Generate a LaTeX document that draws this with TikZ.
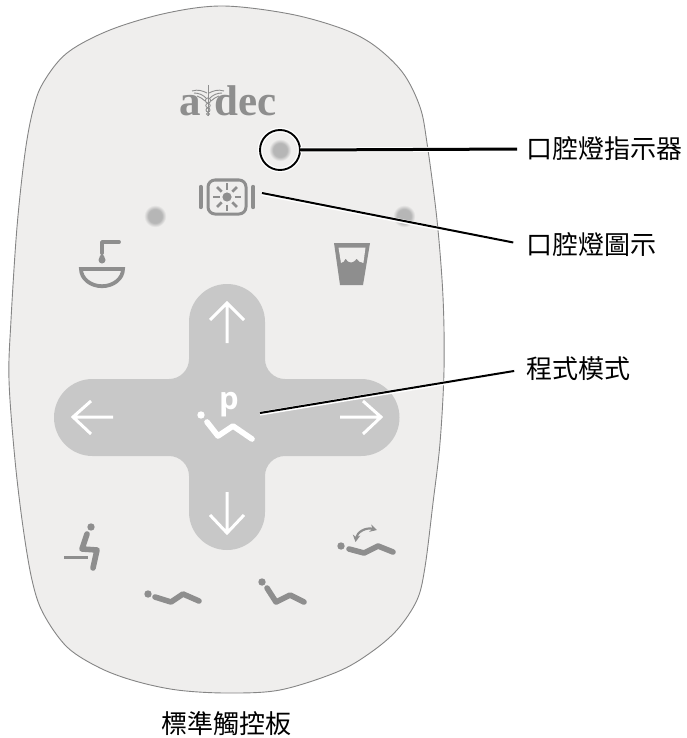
\documentclass[tikz,border=0pt]{standalone}
\usepackage{fontspec}
\usetikzlibrary{arrows.meta,calc}
\newfontfamily\cjkf{Noto Sans CJK TC}
\newfontfamily\logof{Liberation Serif}[BoldFont={Liberation Serif Bold}]
\newfontfamily\pf{Open Sans}
\definecolor{panelbg}{HTML}{EFEEED}
\definecolor{panelline}{HTML}{858585}
\definecolor{crossc}{HTML}{C8C8C8}
\definecolor{iconc}{HTML}{8E8E8E}
\definecolor{ledc}{HTML}{B6B6B6}
\pgfdeclareradialshading{ledglow}{\pgfpointorigin}{color(0bp)=(ledc);color(15bp)=(ledc);color(24bp)=(panelbg);color(50bp)=(panelbg)}
\tikzset{
  whitearrow/.style={draw=white,line width=3pt,line cap=butt,miter limit=10},
  body/.style={draw=iconc,line width=5.6pt,line cap=round,line join=round},
  wbody/.style={draw=white,line width=5.6pt,line cap=round,line join=round},
  lbl/.style={inner sep=0pt,font=\cjkf\fontsize{26}{30}\selectfont,text=black},
  halo/.style={draw=white,line cap=butt},
  leader/.style={draw=black,line cap=butt},
  led/.style={shading=ledglow},
}
\begin{document}
\begin{tikzpicture}[x=1pt,y=-1pt]
\useasboundingbox (0,0) rectangle (686,738);
% panel
\draw[fill=panelbg,draw=panelline,line width=0.9pt] plot[smooth cycle,tension=0.55] coordinates {
 (223,6) (167,13) (110,30) (67,53) (43,83) (33,110) (25,153) (17,227) (11,320) (9,380)
 (15,460) (23,527) (32,580) (43,613) (67,647) (100,668) (135,681) (177,690) (227,693) (280,690)
 (337,672) (370,653) (397,630) (417,600) (425,567) (433,503) (440,443) (444,370) (443,297) (437,220)
 (427,143) (420,107) (403,73) (375,46) (343,29) (290,14)};
% cross
\fill[crossc] (189,322) arc[start angle=180,end angle=360,radius=38] -- (265,359)
  arc[start angle=180,end angle=90,radius=20] -- (361,379)
  arc[start angle=-90,end angle=90,radius=38.5] -- (285,456)
  arc[start angle=270,end angle=180,radius=20] -- (265,512)
  arc[start angle=0,end angle=180,radius=38] -- (189,476)
  arc[start angle=0,end angle=-90,radius=20] -- (92.5,456)
  arc[start angle=90,end angle=270,radius=38.5] -- (169,379)
  arc[start angle=90,end angle=0,radius=20] -- cycle;
% arrows
\draw[whitearrow] (227,343)--(227,303) (210,320)--(227,303)--(244,320);
\draw[whitearrow] (227,492)--(227,533) (210,515)--(227,533)--(244,515);
\draw[whitearrow] (113,417)--(73,417) (91,401)--(73,417)--(91,434);
\draw[whitearrow] (340,417)--(381,417) (363,401)--(381,417)--(363,434);
% p and chair
\node[anchor=base,inner sep=0pt,text=white,font=\pf\bfseries\fontsize{31}{31}\selectfont] (pmark) at (229,409) {p};
\fill[white] (201,415) circle[radius=3.7];
\draw[wbody] (207,422)--(218,436)--(233,426)--(252,439);
% leds
\path[led] (155,216) circle[radius=11.5];
\path[led] (404,216) circle[radius=11.5];
\path[led] (280,150) circle[radius=11.5];
% logo
\node[anchor=base west,inner sep=0pt,text=iconc,font=\logof\bfseries\fontsize{43}{43}\selectfont] (loga) at (179,116) {a};
\node[anchor=base west,inner sep=0pt,text=iconc,font=\logof\bfseries\fontsize{43}{43}\selectfont] (logod) at (214.5,116) {dec};
\begin{scope}[draw=iconc,line width=0.9pt]
\draw (208,85)--(208,116);
\draw (192,91)..controls (198,89) and (203,91)..(207,93);
\draw (224,91)..controls (218,89) and (213,91)..(209,93);
\draw (194,93)..controls (199,93) and (203,95)..(206,98);
\draw (222,93)..controls (217,93) and (213,95)..(210,98);
\draw (197,96)..controls (200,97) and (203,99)..(205,101);
\draw (219,96)..controls (216,97) and (213,99)..(211,101);
\draw (208,100.5) circle[radius=2.6];
\draw (208,105.5) circle[radius=2.2];
\draw (208,110) circle[radius=2];
\draw (208,114) circle[radius=1.6];
\end{scope}
% light icon
\draw[iconc,line width=4.4pt,line cap=round] (200.8,187)--(200.8,207);
\draw[iconc,line width=4.4pt,line cap=round] (253.2,187)--(253.2,207);
\draw[iconc,line width=3pt,rounded corners=7pt] (208,180) rectangle (246,214);
\fill[iconc] (227,197) circle[radius=4.6];
\foreach \a in {0,45,...,315}{
  \draw[iconc,line width=2.7pt] (227,197) ++(\a:7.5) -- ++(\a:6.5);
}
% sink icon
\draw[iconc,line width=3.8pt,line cap=round,line join=round] (102,253)--(102,242)--(119,242);
\fill[iconc] (102,252) .. controls (103,256) and (105.5,257) .. (105.5,260) arc[start angle=0,end angle=180,radius=3.5] .. controls (98.5,257) and (101,256) .. (102,252) -- cycle;
\draw[iconc,line width=3.8pt,line join=miter] (81,269)--(123,269) arc[start angle=0,end angle=180,x radius=21,y radius=17.2] -- cycle;
% cup icon
\fill[iconc] (334,243)--(370,243)--(363,285)--(340,285)--cycle;
\fill[panelbg] (338.5,247.5)--(365.5,247.5)--(363.4,263) .. controls (360,262.5) and (358,261) .. (356.5,258.5) .. controls (355,261.5) and (352,262.5) .. (351,262.5) .. controls (349,262.5) and (347,261) .. (345.5,258.5) .. controls (345,261) and (343,262.5) .. (341,263) -- cycle;
% bottom icons
\fill[iconc] (91,527) circle[radius=3.7];
\draw[body] (87,534)--(82,549)--(97,550)--(93,568);
\draw[iconc,line width=3pt] (64,557)--(88,557);
\fill[iconc] (148,594) circle[radius=3.7];
\draw[body] (155,597)--(171,602)--(183,594)--(199,601);
\fill[iconc] (262,582) circle[radius=3.7];
\draw[body] (267,588)--(276,602)--(290,595)--(304,602);
\fill[iconc] (341,546) circle[radius=3.7];
\draw[body] (349,549)--(364,553)--(378,546)--(393,552);
\draw[iconc,line width=2.2pt,{Stealth[length=7pt,width=7.5pt]}-{Stealth[length=7pt,width=7.5pt]}] (355.5,542) .. controls (357,532) and (366,527) .. (377,530);
% callouts
\node[lbl,anchor=west] (lampind) at (526,149) {口腔燈指示器};
\node[lbl,anchor=west] (lampicon) at (526,245) {口腔燈圖示};
\node[lbl,anchor=west] (progmode) at (526,369) {程式模式};
\node[lbl,anchor=center] (panelname) at (226.5,724) {標準觸控板};
\node[circle,minimum size=40pt,inner sep=0pt] (ring) at (280,150) {};
\coordinate (iconend) at (262,193);
\coordinate (modeend) at (260,413);
\draw[draw=white,line width=4.6pt] (ring) circle[radius=20];
\draw[draw=black,line width=1.9pt] (ring) circle[radius=20];
\draw[halo,line width=5pt,shorten >=9pt] (ring.east) -- (lampind.west);
\draw[leader,line width=3pt,shorten >=9pt] (ring.east) -- (lampind.west);
\draw[halo,line width=4pt,shorten >=13pt,transform canvas={yshift=-0.6pt}] (iconend) -- (lampicon.west);
\draw[leader,line width=2pt,shorten >=13pt] (iconend) -- (lampicon.west);
\draw[halo,line width=4pt,shorten >=12pt,transform canvas={yshift=-0.6pt}] (modeend) -- (progmode.west);
\draw[leader,line width=2pt,shorten >=12pt] (modeend) -- (progmode.west);
\end{tikzpicture}
\end{document}
